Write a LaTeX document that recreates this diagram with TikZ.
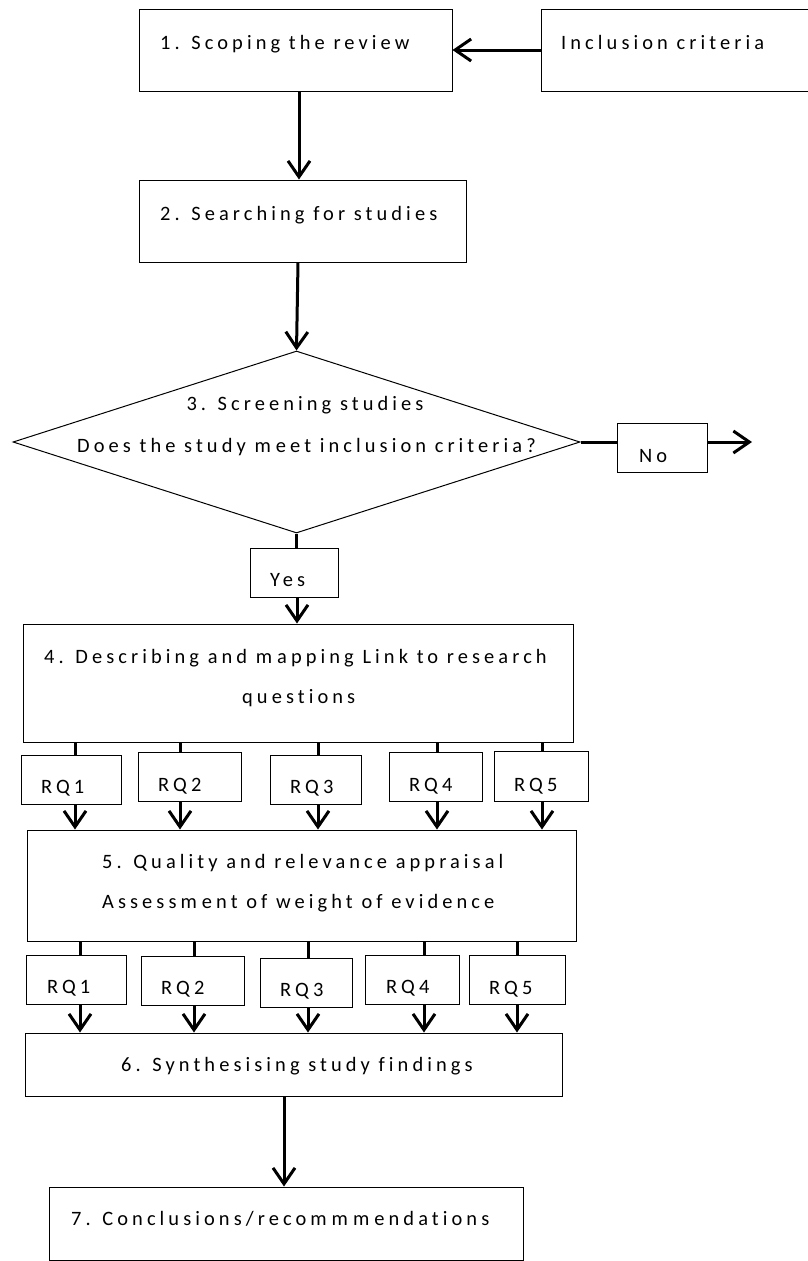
\documentclass[tikz,border=0pt]{standalone}
\usepackage{fontspec}
\usetikzlibrary{arrows.meta,shapes.geometric}
\newfontfamily\diafont[LetterSpace=20,Ligatures=NoCommon]{Carlito}
\newcommand\mk{m\kern5bp\relax}
\tikzset{
  box/.style={draw=black, line width=1bp, rectangle, inner sep=0pt},
  lbl/.style={font=\diafont\fontsize{20.5}{24}\selectfont, inner sep=0pt, anchor=base west},
  conn/.style={line width=3bp},
  arr/.style={line width=3bp, -{Straight Barb[length=16bp,width=22bp]}},
}
\begin{document}
\begin{tikzpicture}[x=1bp,y=-1bp]
\useasboundingbox (0,0) rectangle (808,1261);
% boxes
\node[box, minimum width=312bp, minimum height=82bp] (b1) at (296,50) {};
\node[box, minimum width=274bp, minimum height=82bp] (inc) at (678,50) {};
\node[box, minimum width=326bp, minimum height=82bp] (b2) at (303,221) {};
\node[draw=black, line width=1bp, diamond, inner sep=0pt, minimum width=567bp, minimum height=182bp] (dia) at (296.5,442) {};
\node[box, minimum width=90bp, minimum height=49bp] (no) at (662,447.5) {};
\node[box, minimum width=88bp, minimum height=49bp] (yes) at (294,572.5) {};
\node[box, minimum width=549bp, minimum height=118bp] (b4) at (298.5,683) {};
\node[box, minimum width=99bp, minimum height=49bp] (r1a) at (71.5,779.5) {};
\node[box, minimum width=103bp, minimum height=49bp] (r2a) at (189.5,776.5) {};
\node[box, minimum width=91bp, minimum height=49bp] (r3a) at (315.5,779.5) {};
\node[box, minimum width=93bp, minimum height=49bp] (r4a) at (435.5,776.5) {};
\node[box, minimum width=94bp, minimum height=50bp] (r5a) at (541,776) {};
\node[box, minimum width=548bp, minimum height=111bp] (b5) at (302,885.5) {};
\node[box, minimum width=99bp, minimum height=49bp] (r1b) at (76.5,979.5) {};
\node[box, minimum width=103bp, minimum height=49bp] (r2b) at (192.5,980.5) {};
\node[box, minimum width=92bp, minimum height=49bp] (r3b) at (306,982.5) {};
\node[box, minimum width=94bp, minimum height=49bp] (r4b) at (412,979.5) {};
\node[box, minimum width=96bp, minimum height=49bp] (r5b) at (517,979.5) {};
\node[box, minimum width=536bp, minimum height=63bp] (b6) at (294,1064.5) {};
\node[box, minimum width=473bp, minimum height=73bp] (b7) at (286.5,1223.5) {};
% texts
\node[lbl] (t1) at (160,49) {1. Scoping the review};
\node[lbl] (tinc) at (561,49) {Inclusion criteria};
\node[lbl] (t2) at (160,220) {2. Searching for studies};
\node[lbl, anchor=base] (t3a) at (305,410) {3. Screening studies};
\node[lbl] (t3b) at (77,452) {Does the study \mk eet inclusion criteria?};
\node[lbl] (tno) at (639,462) {No};
\node[lbl] (tyes) at (270,586) {Yes};
\node[lbl] (t4a) at (44,663) {4. Describing and \mk apping Link to research};
\node[lbl] (t4b) at (242,703) {questions};
\node[lbl] (q1a) at (41,793) {RQ1};
\node[lbl] (q2a) at (158,791) {RQ2};
\node[lbl] (q3a) at (290,793) {RQ3};
\node[lbl] (q4a) at (409,791) {RQ4};
\node[lbl] (q5a) at (514,791) {RQ5};
\node[lbl] (t5a) at (102,868) {5. Quality and relevance appraisal};
\node[lbl] (t5b) at (102,908) {Assess\mk ent of weight of evidence};
\node[lbl] (q1b) at (47,993) {RQ1};
\node[lbl] (q2b) at (161,994) {RQ2};
\node[lbl] (q3b) at (280,996) {RQ3};
\node[lbl] (q4b) at (386,993) {RQ4};
\node[lbl] (q5b) at (489,994) {RQ5};
\node[lbl] (t6) at (121,1071) {6. Synthesising study findings};
\node[lbl] (t7) at (71,1225) {7. Conclusions/reco\mk \mk \mk endations};
% connector x positions
\coordinate (xa) at (299,0);
\coordinate (xb) at (298,0);
\coordinate (xc) at (297,0);
\coordinate (xd) at (284,0);
\coordinate (noend) at (752,442);
\coordinate (a1) at (75,0);
\coordinate (a2) at (180,0);
\coordinate (a3) at (318,0);
\coordinate (a4) at (437,0);
\coordinate (a5) at (542,0);
\coordinate (c1) at (80,0);
\coordinate (c2) at (194,0);
\coordinate (c3) at (308,0);
\coordinate (c4) at (424,0);
\coordinate (c5) at (517,0);
% connectors
\draw[arr] (inc.west) -- (b1.east);
\draw[arr] (b1.south -| xa) -- (b2.north -| xa);
\draw[arr] (b2.south -| xb) -- (dia.north);
\draw[conn] (dia.east) -- (no.west |- dia.east);
\draw[arr] (no.east |- noend) -- (noend);
\draw[conn] (dia.south) -- (yes.north -| dia.south);
\draw[arr] (yes.south -| xc) -- (b4.north -| xc);
\foreach \r/\x in {r1a/a1,r2a/a2,r3a/a3,r4a/a4,r5a/a5}{
  \draw[conn] (b4.south -| \x) -- (\r.north -| \x);
  \draw[arr] (\r.south -| \x) -- (b5.north -| \x);
}
\foreach \r/\x in {r1b/c1,r2b/c2,r3b/c3,r4b/c4,r5b/c5}{
  \draw[conn] (b5.south -| \x) -- (\r.north -| \x);
  \draw[arr] (\r.south -| \x) -- (b6.north -| \x);
}
\draw[arr] (b6.south -| xd) -- (b7.north -| xd);
\end{tikzpicture}
\end{document}
